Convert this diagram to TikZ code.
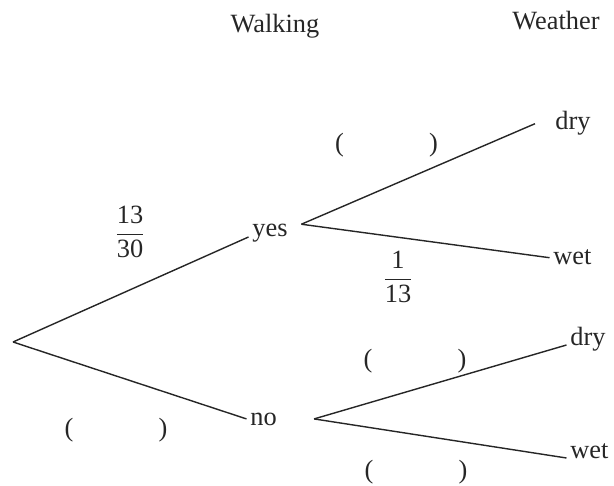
\documentclass[tikz,border=0pt]{standalone}
\usepackage{amsmath}
\usepackage{fontspec}
\setmainfont{Liberation Serif}
\usepackage{tikz}
\usetikzlibrary{positioning}
\definecolor{ink}{HTML}{262626}
\newcommand{\blankpair}{(\hspace{1.7cm})}
\tikzset{
  word/.style={inner xsep=2pt, inner ysep=0pt, font=\fontsize{15}{18}\selectfont, text=ink},
  frac/.style={inner sep=0pt, font=\fontsize{15}{18}\selectfont, text=ink},
}

\begin{document}
\begin{tikzpicture}[
  branch/.style={line width=0.8pt, ink},
  blank/.style={inner sep=0pt, font=\fontsize{15}{18}\selectfont, text=ink}]
\useasboundingbox (0,0) rectangle (12.28,9.70);
\node[word, anchor=base] (walk) at (5.50,9.04) {Walking};
\node[word, anchor=base] (weather) at (11.12,9.10) {Weather};
\coordinate (root) at (0.26,2.86);
\node[word, anchor=base west] (yes) at (4.97,4.96) {yes};
\node[word, anchor=base west] (no) at (4.93,1.20) {no};
\node[word, anchor=base west] (dryA) at (11.03,7.10) {dry};
\node[word, anchor=base west] (wetA) at (10.99,4.40) {wet};
\node[word, anchor=base west] (dryB) at (11.33,2.80) {dry};
\node[word, anchor=base west] (wetB) at (11.33,0.54) {wet};
\node[frac] (pyes) at (2.60,5.06) {$\dfrac{\text{13}}{\text{30}}$};
\node[frac] (pwet) at (7.96,4.16) {$\dfrac{\text{1}}{\text{13}}$};
\node[blank] (pno) at (2.32,1.10) {\blankpair};
\node[blank] (pdryA) at (7.73,6.80) {\blankpair};
\node[blank] (pdryB) at (8.30,2.48) {\blankpair};
\node[blank] (pwetB) at (8.32,0.26) {\blankpair};
\draw[branch] (root) -- (yes.base west);
\draw[branch] (root) -- (no.west);
\draw[branch] ([xshift=0.2cm]yes.north east) -- ([xshift=-0.33cm]dryA.west);
\draw[branch] ([xshift=0.2cm]yes.north east) -- (wetA.west);
\draw[branch] ([xshift=0.67cm]no.east) -- (dryB.base west);
\draw[branch] ([xshift=0.67cm]no.east) -- (wetB.base west);
\end{tikzpicture}
\end{document}
